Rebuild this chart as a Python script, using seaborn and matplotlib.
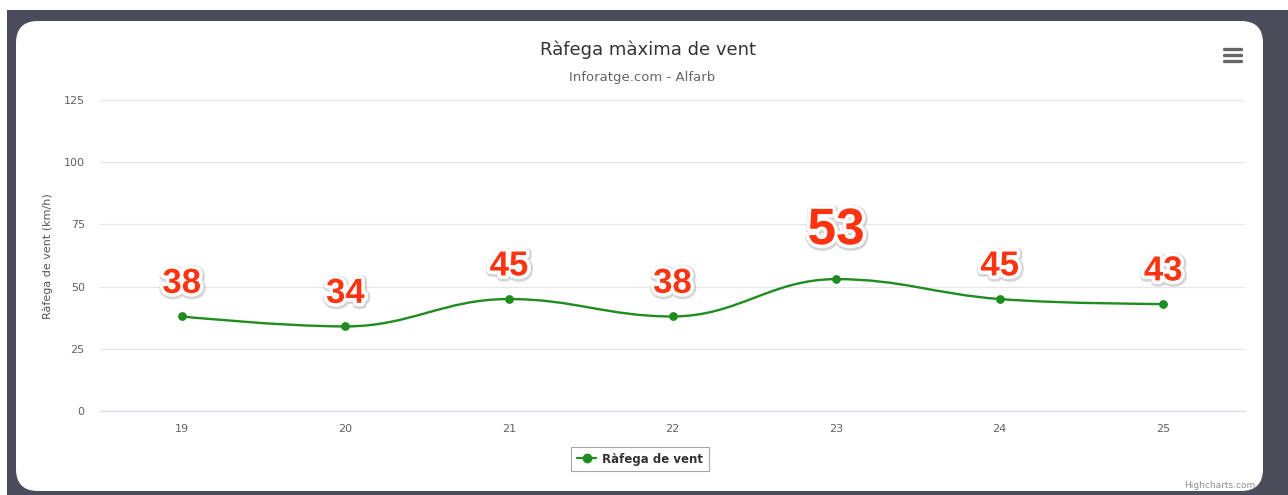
import matplotlib
matplotlib.use('Agg')
import matplotlib.pyplot as plt
import matplotlib.patheffects as pe
from matplotlib.patches import FancyBboxPatch, PathPatch, Rectangle
from matplotlib.path import Path
from matplotlib.lines import Line2D
import seaborn as sns
import pandas as pd

# dades
dies = ['19', '20', '21', '22', '23', '24', '25']
rafega = [38, 34, 45, 38, 53, 45, 43]
y_ticks = [0, 25, 50, 75, 100, 125]

titol = 'Ràfega màxima de vent'
subtitol = 'Inforatge.com - Alfarb'
serie = 'Ràfega de vent'
eix_y = 'Ràfega de vent (km/h)'

verd = '#1e8c1e'
vermell = '#ff3311'

sns.set_style('white')
plt.rcParams['font.family'] = ['DejaVu Sans']

W, H = 1288, 495
fig = plt.figure(figsize=(W / 100, H / 100), dpi=100)
fig.patch.set_facecolor('white')

# fons: marc fosc + targeta blanca arrodonida (coordenades en píxels)
bg = fig.add_axes([0, 0, 1, 1], zorder=-5)
bg.set_xlim(0, W)
bg.set_ylim(0, H)
bg.axis('off')
bg.add_patch(Rectangle((7, 0), W - 7, H - 10, facecolor='#4b4e5a', edgecolor='none'))
bg.add_patch(FancyBboxPatch((16, H - 491), 1263 - 16, 491 - 21,
                            boxstyle='round,pad=0,rounding_size=22',
                            facecolor='white', edgecolor='none'))

ax = fig.add_axes([100 / W, (H - 411) / H, (1245 - 100) / W, (411 - 100) / H], zorder=1)
ax.set_facecolor('none')

df = pd.DataFrame({'pos': range(len(dies)), 'dia': dies, 'valor': rafega})


# corba tipus spline (punts de control a l'estil Highcharts)
def spline_path(xs, ys, smoothing=1.5):
    denom = smoothing + 1
    verts = [(xs[0], ys[0])]
    codes = [Path.MOVETO]
    prev_right = (xs[0], ys[0])
    for i in range(1, len(xs)):
        px, py = xs[i], ys[i]
        if i < len(xs) - 1:
            lx, ly = xs[i - 1], ys[i - 1]
            nx, ny = xs[i + 1], ys[i + 1]
            lcx = (smoothing * px + lx) / denom
            lcy = (smoothing * py + ly) / denom
            rcx = (smoothing * px + nx) / denom
            rcy = (smoothing * py + ny) / denom
            corr = ((rcy - lcy) * (rcx - px)) / (rcx - lcx) + py - rcy
            lcy += corr
            rcy += corr
            if lcy > ly and lcy > py:
                lcy = max(ly, py)
                rcy = 2 * py - lcy
            elif lcy < ly and lcy < py:
                lcy = min(ly, py)
                rcy = 2 * py - lcy
            if rcy > ny and rcy > py:
                rcy = max(ny, py)
                lcy = 2 * py - rcy
            elif rcy < ny and rcy < py:
                rcy = min(ny, py)
                lcy = 2 * py - rcy
            left, right = (lcx, lcy), (rcx, rcy)
        else:
            left, right = (px, py), None
        verts += [prev_right, left, (px, py)]
        codes += [Path.CURVE4] * 3
        prev_right = right
    return Path(verts, codes)


ax.add_patch(PathPatch(spline_path(list(df['pos']), list(df['valor'])),
                       facecolor='none', edgecolor=verd, lw=1.7, zorder=3))
sns.scatterplot(data=df, x='pos', y='valor', color=verd, s=40,
                edgecolor=verd, linewidth=0, zorder=4, ax=ax, legend=False)

# etiquetes de dades
vmax = max(rafega)
for i, v in enumerate(rafega):
    fs = 37 if v == vmax else 25
    ax.annotate(str(v), (i, v), xytext=(0, fs * 0.68), textcoords='offset points',
                ha='center', va='baseline', fontsize=fs, fontweight='bold',
                color=vermell, family=['Liberation Sans', 'DejaVu Sans'], zorder=5,
                path_effects=[pe.SimpleLineShadow(offset=(0.6, -0.9), shadow_color='#777777',
                                                  alpha=0.3, linewidth=7),
                              pe.Stroke(linewidth=5, foreground='white'),
                              pe.Normal()])

ax.set_xlim(-0.5, len(dies) - 0.5)
ax.set_ylim(0, 125)
ax.set_xticks(list(df['pos']))
ax.set_xticklabels(dies)
ax.set_yticks(y_ticks)
ax.tick_params(axis='both', length=0, labelsize=8, labelcolor='#606060')
ax.tick_params(axis='y', pad=11)
ax.tick_params(axis='x', pad=9)
ax.set_xlabel('')
ax.set_ylabel('')
ax.grid(axis='y', color='#e6e6e6', lw=0.8)
ax.grid(axis='x', visible=False)
for s in ['top', 'left', 'right']:
    ax.spines[s].set_visible(False)
ax.spines['bottom'].set_color('#d8dce8')
ax.spines['bottom'].set_linewidth(1.0)

fig.text(48 / W, 1 - 256 / H, eix_y, rotation=90, ha='center', va='center',
         fontsize=8, color='#555555')

# títols
fig.text(648 / W, 1 - 50 / H, titol, ha='center', va='center', fontsize=13, color='#333333')
fig.text(642 / W, 1 - 78 / H, subtitol, ha='center', va='center', fontsize=9.5, color='#666666')

# icona de menú
for yy in (49, 55, 61):
    fig.add_artist(Line2D([1224 / W, 1241 / W], [1 - yy / H, 1 - yy / H],
                          color='#666666', lw=2.4, solid_capstyle='round'))

# llegenda
handle = Line2D([], [], color=verd, lw=1.6, marker='o', markersize=6)
leg = fig.legend([handle], [serie], loc='center', bbox_to_anchor=(640 / W, 1 - 459 / H),
                 frameon=True, fancybox=False, edgecolor='#909090', handlelength=1.6,
                 prop={'weight': 'bold', 'size': 8.5}, borderpad=0.5, handletextpad=0.5)
leg.get_frame().set_linewidth(0.8)
for t in leg.get_texts():
    t.set_color('#333333')

fig.text(1255 / W, 1 - 486 / H, 'Highcharts.com', ha='right', va='center',
         fontsize=6.5, color='#909090')

fig.savefig('out.png', dpi=100, facecolor=fig.get_facecolor())
